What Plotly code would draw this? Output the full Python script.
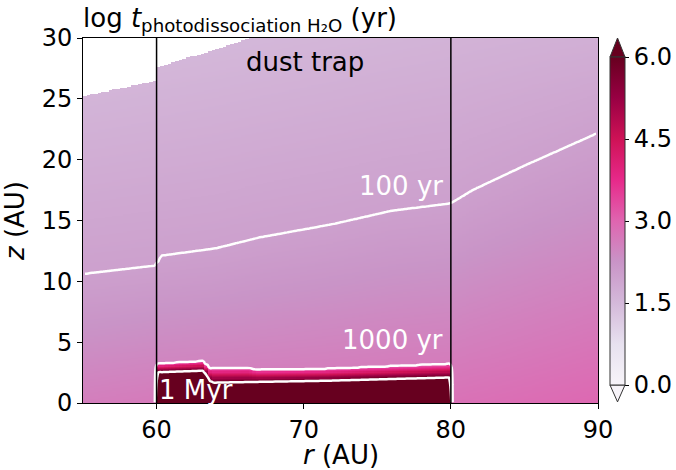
import numpy as np
import plotly.graph_objects as go

# --- readings: photodissociation timescale of H2O, log10(t / yr) ---
# height (AU) of the 100 yr contour (log t = 2) versus radius
R_100 = [55.0, 60.0, 60.3, 64.0, 67.0, 72.0, 76.0, 80.0, 81.5, 85.0, 90.0]
Z_100 = [10.6, 11.3, 12.1, 12.7, 13.6, 14.7, 15.8, 16.4, 17.5, 19.5, 22.2]

# log t at the midplane and at z = 30 AU
R_EDGE = [55.0, 60.0, 80.0, 90.0]
LOG_T_MIDPLANE = [2.6, 2.67, 2.8, 2.95]
R_TOP = [55.0, 90.0]
LOG_T_TOP = [1.45, 1.7]

# dust trap: 1000 yr (log t = 3) and 1 Myr (log t = 6) contour heights
TRAP_EDGES = [60.0, 80.0]
R_1000 = [60.0, 63.2, 63.6, 66.2, 66.8, 71.6, 80.0]
Z_1000 = [3.26, 3.48, 2.9, 2.93, 2.77, 2.85, 3.26]
R_1MYR = [60.0, 63.2, 63.7, 71.6, 80.0]
Z_1MYR = [2.52, 2.66, 1.67, 1.83, 2.1]

# upper limit of the computed domain (no data above it)
R_LIMIT = [55.0, 60.0, 60.1, 66.5]
Z_LIMIT = [25.2, 26.5, 27.6, 30.0]

CONTOUR_LEVELS = [2.0, 3.0, 6.0]
CBAR_TICKS = [0.0, 1.5, 3.0, 4.5, 6.0]
X_TICKS = [60, 70, 80, 90]
Y_TICKS = [0, 5, 10, 15, 20, 25, 30]

# --- model grid ---
r = np.arange(55.125, 90.0, 0.25)
z = np.arange(0.05, 30.0, 0.1)
R, Z = np.meshgrid(r, z)

h100 = np.interp(r, R_100, Z_100)
base = np.interp(r, R_EDGE, LOG_T_MIDPLANE)
top = np.interp(r, R_TOP, LOG_T_TOP)

below = 2.0 + (base - 2.0) * (1.0 - Z / h100)
above = 2.0 - (2.0 - top) * (Z - h100) / (30.0 - h100)
log_t = np.where(Z < h100, below, above)

in_trap = (R > TRAP_EDGES[0]) & (R < TRAP_EDGES[1])
h1000 = np.interp(r, R_1000, Z_1000)
h1myr = np.interp(r, R_1MYR, Z_1MYR)
shielded = 3.0 + 3.0 * (h1000 - Z) / (h1000 - h1myr)
log_t = np.where(in_trap & (Z < h1000), shielded, log_t)

z_lim = np.interp(r, R_LIMIT, Z_LIMIT, right=np.inf)
log_t_shown = np.where(Z > z_lim, np.nan, log_t)

fig = go.Figure()

fig.add_trace(go.Heatmap(
    x=r, y=z, z=log_t_shown,
    colorscale="PuRd", zmin=0, zmax=6,
    hoverinfo="skip",
    colorbar=dict(
        x=1.0233, xanchor="left", xpad=0,
        y=0.4986, yanchor="middle", ypad=0,
        len=0.899, lenmode="fraction", thickness=15,
        outlinewidth=1, outlinecolor="#333333",
        tickvals=CBAR_TICKS, tickformat=".1f",
        ticks="outside", ticklen=4, tickcolor="black",
        tickfont=dict(size=24, color="black"),
    ),
))

for level in CONTOUR_LEVELS:
    fig.add_trace(go.Contour(
        x=r, y=z, z=log_t,
        autocontour=False,
        contours=dict(start=level, end=level, size=1, coloring="none"),
        line=dict(color="white", width=2.5),
        showscale=False, hoverinfo="skip",
    ))

for edge in TRAP_EDGES:
    fig.add_shape(type="line", xref="x", yref="y",
                  x0=edge, x1=edge, y0=0, y1=30,
                  line=dict(color="black", width=1.5))

# colour bar extension arrows
fig.add_shape(type="path", xref="paper", yref="paper",
              path="M 1.0233 0.948 L 1.0379 1.0 L 1.0524 0.948 Z",
              fillcolor="#67001f", line=dict(color="#333333", width=1))
fig.add_shape(type="path", xref="paper", yref="paper",
              path="M 1.0233 0.0493 L 1.0379 0.003 L 1.0524 0.0493 Z",
              fillcolor="#f7f4f9", line=dict(color="#333333", width=1))

text_font = dict(family="DejaVu Sans", size=26, color="white")
fig.add_annotation(x=70.1, y=28.0, text="dust trap", showarrow=False,
                   font=dict(family="DejaVu Sans", size=26, color="black"))
fig.add_annotation(x=79.6, y=17.8, text="100 yr", showarrow=False,
                   xanchor="right", font=text_font)
fig.add_annotation(x=79.6, y=5.2, text="1000 yr", showarrow=False,
                   xanchor="right", font=text_font)
fig.add_annotation(x=60.0, y=1.1, text="1 Myr", showarrow=False,
                   xanchor="left", font=text_font)

fig.add_annotation(
    x=0, y=1, xref="paper", yref="paper", xanchor="left", yanchor="bottom",
    xshift=-2,
    text="log <i>t</i><sub>photodissociation H\u2082O</sub> (yr)",
    showarrow=False, font=dict(family="DejaVu Sans", size=26, color="black"),
)

# x-axis title placed below the tick labels
fig.add_annotation(
    x=0.5, y=0, xref="paper", yref="paper", xanchor="center", yanchor="top",
    yshift=-36, borderpad=0, text="<i>r</i> (AU)", showarrow=False,
    font=dict(family="DejaVu Sans", size=26, color="black"),
)

axis_common = dict(
    showline=True, linecolor="black", linewidth=1, mirror=True,
    ticks="outside", ticklen=5, tickcolor="black",
    showgrid=False, zeroline=False,
    tickfont=dict(size=24, color="black"),
)
fig.update_xaxes(range=[55, 90], tickvals=X_TICKS, **axis_common)
fig.update_yaxes(range=[0, 30], tickvals=Y_TICKS,
                 title=dict(text="<i>z</i> (AU)", font=dict(size=26, color="black")),
                 **axis_common)

fig.update_layout(
    width=676, height=470,
    margin=dict(l=83, r=78, t=38, b=67, autoexpand=False),
    plot_bgcolor="white", paper_bgcolor="white",
    font=dict(family="DejaVu Sans", color="black"),
    showlegend=False,
)

fig.write_html("out.html")
